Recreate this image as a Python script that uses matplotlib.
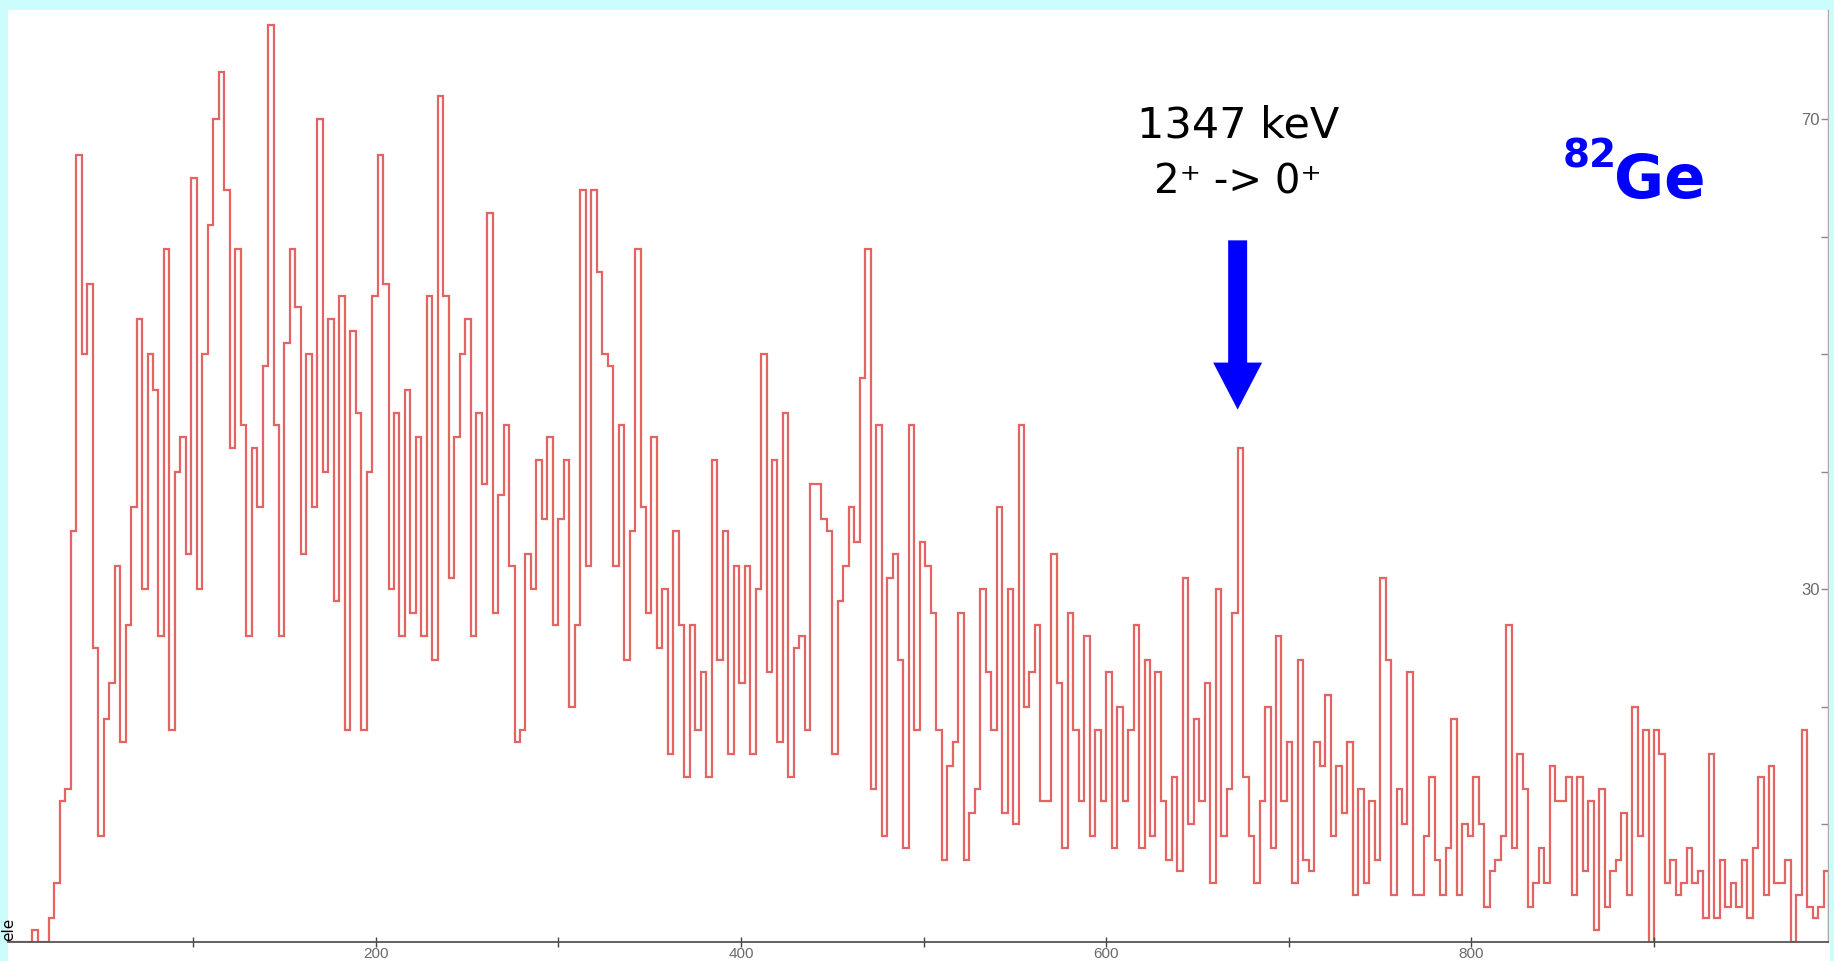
import numpy as np
import matplotlib
matplotlib.use('Agg')
import matplotlib.pyplot as plt
from matplotlib.patches import Rectangle

# spectrum counts, 3 channels per bin, channel 0 .. 996
bin_width = 3
counts = [
    0, 0, 0, 0, 1, 0, 0, 2, 5, 12, 13, 35, 67, 50, 56, 25, 9, 19, 22, 32,
    17, 27, 37, 53, 30, 50, 47, 26, 59, 18, 40, 43, 33, 65, 30, 50, 61, 70, 74, 64,
    42, 59, 44, 26, 42, 37, 49, 78, 44, 26, 51, 59, 54, 33, 50, 37, 70, 40, 53, 29,
    55, 18, 52, 45, 18, 40, 55, 67, 56, 30, 45, 26, 47, 28, 43, 26, 55, 24, 72, 55,
    31, 43, 50, 53, 26, 45, 39, 62, 28, 38, 44, 32, 17, 18, 33, 30, 41, 36, 43, 27,
    36, 41, 20, 27, 64, 32, 64, 57, 50, 49, 32, 44, 24, 35, 59, 37, 28, 43, 25, 30,
    16, 35, 27, 14, 27, 18, 23, 14, 41, 24, 35, 16, 32, 22, 32, 16, 30, 50, 23, 41,
    17, 45, 14, 25, 26, 18, 39, 39, 36, 35, 16, 29, 32, 37, 34, 48, 59, 13, 44, 9,
    31, 33, 24, 8, 44, 18, 34, 32, 28, 18, 7, 15, 17, 28, 7, 11, 13, 30, 23, 18,
    37, 11, 30, 10, 44, 20, 23, 27, 12, 12, 33, 22, 8, 28, 18, 12, 26, 9, 18, 12,
    23, 8, 20, 12, 18, 27, 8, 24, 9, 23, 12, 7, 14, 6, 31, 10, 19, 12, 22, 5,
    30, 9, 13, 28, 42, 14, 9, 5, 12, 20, 8, 26, 12, 17, 5, 24, 7, 6, 17, 15,
    21, 9, 15, 11, 17, 4, 13, 5, 12, 7, 31, 24, 4, 13, 10, 23, 4, 4, 9, 14,
    7, 4, 8, 19, 4, 10, 9, 14, 10, 3, 6, 7, 9, 27, 8, 16, 13, 3, 5, 8,
    5, 15, 12, 12, 14, 4, 14, 6, 12, 1, 13, 3, 6, 7, 11, 4, 20, 9, 18, 0,
    18, 16, 5, 7, 4, 5, 8, 5, 6, 2, 16, 2, 7, 3, 5, 3, 7, 2, 8, 14,
    4, 15, 5, 5, 7, 0, 4, 18, 3, 2, 3, 6,
]
x_major = [200, 400, 600, 800]
x_minor = [100, 300, 500, 700, 900]
y_ticks = [10, 20, 30, 40, 50, 60, 70]
y_labels = ['', '', '30', '', '', '', '70']

peak_channel = 672
peak_label = ['1347 keV', '2\u207a -> 0\u207a']

W, H = 1834, 961
fig = plt.figure(figsize=(W / 100, H / 100), dpi=100)
fig.patch.set_facecolor('#ccfdfd')

# white plot panel on the cyan frame
fig.patches.append(Rectangle((8 / W, 0), 1822 / W, 951 / H, transform=fig.transFigure,
                             facecolor='white', edgecolor='none', zorder=-10))

ax = fig.add_axes([8 / W, 19 / H, 1820 / W, 932 / H])
ax.set_facecolor('none')

edges = np.arange(len(counts) + 1) * bin_width
ax.stairs(counts, edges, color='#e04848', lw=1.6, alpha=0.85)

ax.set_xlim(-1.4, 995.3)
ax.set_ylim(0, 79.3)

for side in ['left', 'top']:
    ax.spines[side].set_visible(False)
ax.spines['bottom'].set_color('#555555')
ax.spines['bottom'].set_linewidth(1.3)
ax.spines['right'].set_color('#aaaaaa')
ax.spines['right'].set_linewidth(1.0)

ax.set_xticks(x_major)
ax.set_xticks(x_minor, minor=True)
ax.set_xticklabels([str(v) for v in x_major])
ax.tick_params(axis='x', which='both', direction='inout', length=7, width=1,
               color='#444444', labelsize=11, labelcolor='#6a6a6a', pad=0)

ax.yaxis.tick_right()
ax.set_yticks(y_ticks)
ax.set_yticklabels(y_labels)
ax.tick_params(axis='y', direction='in', length=5, width=1, color='#888888',
               labelsize=12, labelcolor='#6a6a6a', pad=-6)
for t in ax.yaxis.get_major_ticks():
    t.label2.set_horizontalalignment('right')

for lbl in ax.get_xticklabels() + ax.get_yticklabels():
    lbl.set_family('Liberation Sans')

# annotation of the 2+ -> 0+ line
ax.text(peak_channel, 69.5, peak_label[0], ha='center', va='center',
        fontsize=31, color='black')
ax.text(peak_channel, 64.6, peak_label[1], ha='center', va='center',
        fontsize=29, color='black')
ax.arrow(peak_channel, 59.7, 0, -14.4, width=10.4, head_width=26.8,
         head_length=4.0, length_includes_head=True, color='#0000ff', lw=0)

ax.text(849.7, 66.8, '82', ha='left', va='center', fontsize=28,
        fontweight='bold', color='#0000ff')
ax.text(878, 63.3, 'Ge', ha='left', va='baseline', fontsize=44,
        fontweight='bold', color='#0000ff')

# axis title fragment at the lower left corner
fig.text(1 / W, 32 / H, 'ele', rotation=90, ha='left', va='center',
         fontsize=11, color='black')

fig.savefig('out.png', dpi=100, facecolor=fig.get_facecolor())
